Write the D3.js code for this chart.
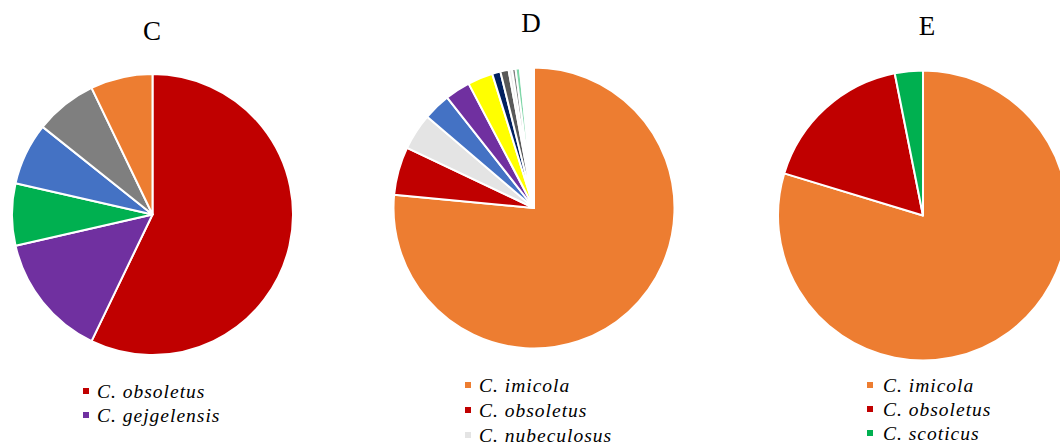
<!DOCTYPE html>
<html>
<head>
<meta charset="utf-8">
<script src="https://cdn.jsdelivr.net/npm/d3@7"></script>
<style>
  html, body { margin: 0; padding: 0; background: #fff; }
  svg { display: block; }
  .title { font-family: "Liberation Serif", "Times New Roman", serif; font-size: 27px; fill: #000; }
  .legend text { font-family: "Liberation Serif", "Times New Roman", serif; font-style: italic; font-size: 19.5px; letter-spacing: 1px; fill: #000; }
</style>
</head>
<body>
<svg id="chart" width="1060" height="446"></svg>
<script>
// Panel C – species counts
const speciesC = ["C. obsoletus", "C. gejgelensis", "C. scoticus", "C. punctatus", "C. pulicaris", "C. imicola"];
const valuesC  = [8, 2, 1, 1, 1, 1];
const legendC  = ["C. obsoletus", "C. gejgelensis"];

// Panel D – species share (%)
const speciesD = ["C. imicola", "C. obsoletus", "C. nubeculosus", "C. punctatus", "C. pulicaris",
                  "C. circumscriptus", "C. newsteadi", "C. festivipennis", "C. kibunensis",
                  "C. longipennis", "C. scoticus", "C. spp."];
const valuesD  = [76.5, 5.55, 4.2, 3.15, 2.9, 2.9, 0.95, 0.95, 0.4, 0.4, 0.5, 1.6];
const legendD  = ["C. imicola", "C. obsoletus", "C. nubeculosus"];

// Panel E – species counts
const speciesE = ["C. imicola", "C. obsoletus", "C. scoticus"];
const valuesE  = [51, 11, 2];
const legendE  = ["C. imicola", "C. obsoletus", "C. scoticus"];

// Species colours
const speciesColours = {
  "C. imicola": "#ED7D31",
  "C. obsoletus": "#C00000",
  "C. gejgelensis": "#7030A0",
  "C. scoticus": "#00B050",
  "C. punctatus": "#4472C4",
  "C. pulicaris": "#7F7F7F",
  "C. nubeculosus": "#E4E4E4",
  "C. circumscriptus": "#FFFF00",
  "C. newsteadi": "#002060",
  "C. festivipennis": "#595959",
  "C. kibunensis": "#EDEDED",
  "C. longipennis": "#808080",
  "C. spp.": "#FFFFFF"
};
// Panel D uses its own hues for a few species
const coloursD = Object.assign({}, speciesColours, {
  "C. punctatus": "#4472C4",
  "C. pulicaris": "#7030A0",
  "C. scoticus": "#7FD6A8"
});

const svg = d3.select("#chart");

const panels = [
  { title: "C", species: speciesC, values: valuesC, legend: legendC, colours: speciesColours,
    cx: 152.5, cy: 214.5, r: 140.5, titleX: 152, titleY: 40,
    legendX: 83, legendY: 398, legendStep: 24, textDx: 14 },
  { title: "D", species: speciesD, values: valuesD, legend: legendD, colours: coloursD,
    cx: 534, cy: 208, r: 140.5, titleX: 531, titleY: 32,
    legendX: 465, legendY: 392, legendStep: 25, textDx: 14 },
  { title: "E", species: speciesE, values: valuesE, legend: legendE, colours: speciesColours,
    cx: 923, cy: 215.5, r: 145, titleX: 927, titleY: 35,
    legendX: 867, legendY: 392, legendStep: 24, textDx: 16 }
];

const pie = d3.pie().sort(null).value(d => d.value);

panels.forEach(p => {
  const data = p.species.map((s, i) => ({ name: s, value: p.values[i] }));
  const colour = d3.scaleOrdinal().domain(p.species).range(p.species.map(s => p.colours[s]));
  const arc = d3.arc().innerRadius(0).outerRadius(p.r);

  const g = svg.append("g").attr("transform", `translate(${p.cx},${p.cy})`);
  g.selectAll("path")
    .data(pie(data))
    .join("path")
    .attr("d", arc)
    .attr("fill", d => colour(d.data.name))
    .attr("stroke", "#fff")
    .attr("stroke-width", 2)
    .attr("stroke-linejoin", "round");

  svg.append("text")
    .attr("class", "title")
    .attr("x", p.titleX)
    .attr("y", p.titleY)
    .attr("text-anchor", "middle")
    .text(p.title);

  const lg = svg.append("g").attr("class", "legend");
  const rows = lg.selectAll("g")
    .data(p.legend)
    .join("g")
    .attr("transform", (d, i) => `translate(${p.legendX},${p.legendY + i * p.legendStep})`);
  rows.append("rect")
    .attr("x", 0)
    .attr("y", -10)
    .attr("width", 6)
    .attr("height", 6)
    .attr("fill", d => colour(d));
  rows.append("text")
    .attr("x", p.textDx)
    .attr("y", 0)
    .text(d => d);
});
</script>
</body>
</html>
